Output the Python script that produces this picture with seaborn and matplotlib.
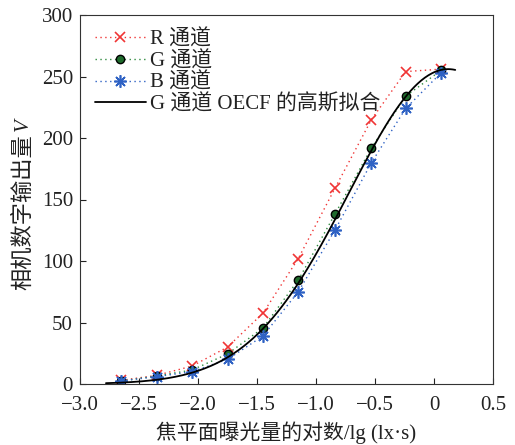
import numpy as np
import pandas as pd
import matplotlib
matplotlib.use("Agg")
import matplotlib.pyplot as plt
import seaborn as sns

# data
log_exposure = [-2.65, -2.35, -2.05, -1.75, -1.45, -1.15, -0.84, -0.53, -0.24, 0.06]
r_values = [3, 7, 14.6, 30, 57.5, 102, 159, 215, 254, 256]
g_values = [2.5, 6.5, 11.4, 24.4, 45.5, 84.5, 138, 192, 234, 255]
b_values = [2.5, 6, 10, 20, 39, 75, 125, 180, 224, 253]
# Gaussian fit parameters of G channel OECF: a*exp(-((x-b)/c)^2)
fit_a, fit_b, fit_c = 256.0, 0.12, 1.19
fit_range = (-2.78, 0.18)

x_ticks = [-3.0, -2.5, -2.0, -1.5, -1.0, -0.5, 0, 0.5]
x_ticklabels = ["\u22123.0", "\u22122.5", "\u22122.0", "\u22121.5", "\u22121.0", "\u22120.5", "0", "0.5"]
y_ticks = [0, 50, 100, 150, 200, 250, 300]

labels = ["R 通道", "G 通道", "B 通道", "G 通道 OECF 的高斯拟合"]
x_label = "焦平面曝光量的对数/lg (lx·s)"
y_label = "相机数字输出量"
y_label_var = "V"

sns.set_theme(style="ticks")
plt.rcParams['font.family'] = ['Liberation Serif', 'Noto Sans CJK SC', 'DejaVu Sans']
plt.rcParams['xtick.direction'] = 'in'
plt.rcParams['ytick.direction'] = 'in'

W, H = 515, 445
fig = plt.figure(figsize=(W / 100, H / 100), dpi=100)
ax = fig.add_axes([80 / W, 1 - 384 / H, 413 / W, 369 / H])

df = pd.DataFrame({"x": log_exposure, "R": r_values, "G": g_values, "B": b_values})

sns.lineplot(data=df, x="x", y="R", ax=ax, color="#f03535", linestyle=(0, (1, 2.5)),
             linewidth=1.0, marker="x", markersize=7.5, markeredgewidth=1.2,
             markeredgecolor="#f03535", label=labels[0])
sns.lineplot(data=df, x="x", y="G", ax=ax, color="#2e8b3e", linestyle=(0, (1, 2.5)),
             linewidth=1.0, marker="o", markersize=6, markerfacecolor="#1f6b2c",
             markeredgecolor="black", markeredgewidth=1.0, label=labels[1])
sns.lineplot(data=df, x="x", y="B", ax=ax, color="#2f62c4", linestyle=(0, (1, 2.5)),
             linewidth=1.0, marker=(8, 2, 0), markersize=9, markeredgewidth=1.2,
             markeredgecolor="#2f62c4", label=labels[2])

xf = np.linspace(fit_range[0], fit_range[1], 300)
yf = fit_a * np.exp(-((xf - fit_b) / fit_c) ** 2)
sns.lineplot(x=xf, y=yf, ax=ax, color="black", linewidth=1.3, label=labels[3])

ax.set_xlim(-3.0, 0.5)
ax.set_ylim(0, 300)
ax.set_xticks(x_ticks)
ax.set_xticklabels(x_ticklabels)
ax.set_yticks(y_ticks)
ax.tick_params(labelsize=15, length=4, width=0.8, colors="#222222")
ax.tick_params(axis="x", pad=9)
ax.tick_params(axis="y", pad=5)
for s in ax.spines.values():
    s.set_linewidth(0.8)
    s.set_color("#333333")

ax.set_xlabel(x_label, fontsize=15, labelpad=4, color="#222222")
ax.set_ylabel("")

# y label: CJK text plus italic variable, stacked bottom to top
yl = fig.text(23 / W, 1 - 290 / H, y_label, rotation=90, ha="center", va="bottom",
              fontsize=16, color="#222222",
              family=['Noto Sans CJK SC', 'DejaVu Sans'])
fig.canvas.draw()
bb = yl.get_window_extent(renderer=fig.canvas.get_renderer())
fig.text(23 / W, (bb.y1 + 3) / H, y_label_var, rotation=90, ha="center", va="bottom",
         fontsize=15, color="#222222", style="italic", family="Liberation Serif")

leg = ax.legend(loc="upper left", frameon=False, fontsize=15, handlelength=2.45,
                handletextpad=0.2, labelspacing=0.07, borderaxespad=0.5,
                borderpad=0.2)
for t in leg.get_texts():
    t.set_color("#222222")

fig.savefig("out.png", dpi=100)
